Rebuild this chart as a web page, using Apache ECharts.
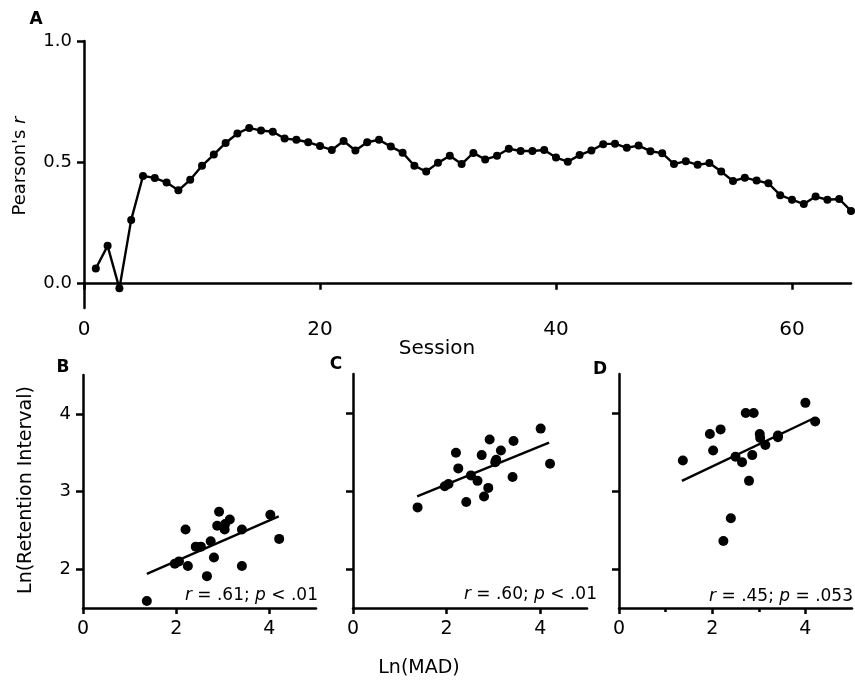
<!DOCTYPE html>
<html><head><meta charset="utf-8">
<script src="https://cdn.jsdelivr.net/npm/echarts@6/dist/echarts.min.js"></script>
<style>html,body{margin:0;padding:0;background:#fff}#c{width:855px;height:683px}</style>
</head><body><div id="c"></div>
<script>
// Panel A data
const sessions = [1,2,3,4,5,6,7,8,9,10,11,12,13,14,15,16,17,18,19,20,21,22,23,24,25,26,27,28,29,30,31,32,33,34,35,36,37,38,39,40,41,42,43,44,45,46,47,48,49,50,51,52,53,54,55,56,57,58,59,60,61,62,63,64,65];
const pearsonR = [0.063,0.156,-0.019,0.263,0.444,0.436,0.417,0.385,0.428,0.486,0.532,0.580,0.619,0.642,0.631,0.626,0.598,0.593,0.583,0.567,0.551,0.588,0.549,0.583,0.593,0.565,0.540,0.486,0.462,0.498,0.527,0.493,0.539,0.512,0.527,0.556,0.547,0.547,0.551,0.520,0.503,0.530,0.549,0.575,0.577,0.560,0.569,0.546,0.538,0.493,0.505,0.490,0.497,0.462,0.423,0.437,0.425,0.414,0.365,0.346,0.328,0.359,0.346,0.349,0.300];
const ticksA_x = [0,20,40,60];
const ticksA_y = [0,0.5,1.0];

// Panels B, C, D data (Ln(MAD) vs Ln(Retention Interval))
const madB = [1.37,1.97,2.06,2.20,2.25,2.42,2.53,2.66,2.74,2.81,2.88,2.92,3.04,3.05,3.15,3.41,3.41,4.02,4.21];
const riB  = [1.59,2.07,2.10,2.51,2.04,2.29,2.29,1.91,2.36,2.15,2.56,2.74,2.51,2.58,2.64,2.51,2.04,2.70,2.39];
const fitB = [[1.37,1.94],[4.20,2.68]];
const madC = [1.38,1.96,2.04,2.20,2.25,2.42,2.52,2.66,2.75,2.80,2.89,2.92,3.04,3.06,3.16,3.41,3.43,4.01,4.21];
const riC  = [2.79,3.06,3.09,3.49,3.29,2.86,3.20,3.13,3.46,2.93,3.04,3.66,3.37,3.40,3.52,3.18,3.64,3.80,3.35];
const fitC = [[1.37,2.93],[4.19,3.62]];
const madD = [1.37,1.95,2.02,2.18,2.24,2.40,2.50,2.64,2.72,2.79,2.86,2.89,3.02,3.03,3.14,3.41,3.41,4.00,4.21];
const riD  = [3.39,3.73,3.52,3.79,2.36,2.65,3.44,3.37,4.00,3.13,3.46,4.00,3.73,3.68,3.59,3.71,3.69,4.13,3.89];
const fitD = [[1.35,3.13],[4.17,3.93]];
const ticksSmall_x = [0,2,4];
const ticksSmall_xMinor = [1,3];
const ticksSmall_y = [2,3,4];

const FONT = '"DejaVu Sans", "Liberation Sans", Arial, sans-serif';
const pair = (xs, ys) => xs.map((x, i) => [x, ys[i]]);
const AXW = 2.5;

function xAx(gi, min, max, ticks, fs) {
  return {
    type: 'value', gridIndex: gi, min: min, max: max,
    axisLine: { show: true, lineStyle: { color: '#000', width: AXW } }, splitLine: { show: false },
    axisTick: { show: true, length: 6, lineStyle: { color: '#000', width: AXW }, customValues: ticks },
    axisLabel: { show: true, customValues: ticks, color: '#000', fontSize: fs, fontFamily: FONT, margin: 12 }
  };
}
function yAx(gi, min, max, ticks, showLabels, fs, fmt) {
  return {
    type: 'value', gridIndex: gi, min: min, max: max,
    axisLine: { show: true, lineStyle: { color: '#000', width: AXW } }, splitLine: { show: false },
    axisTick: { show: true, length: 7, lineStyle: { color: '#000', width: AXW }, customValues: ticks },
    axisLabel: { show: showLabels, customValues: ticks, color: '#000', fontSize: fs, fontFamily: FONT, margin: 12, formatter: fmt }
  };
}
function txt(x, y, text, size, opts) {
  const o = opts || {};
  return {
    type: 'text', x: x, y: y, rotation: o.rot || 0,
    style: {
      text: text, fontSize: size, fontFamily: FONT, fontWeight: o.bold ? 'bold' : 'normal', fill: '#000',
      align: o.align || 'center', verticalAlign: 'middle',
      rich: { i: { fontStyle: 'italic', fontSize: size, fontFamily: FONT } }
    }
  };
}

const dotStyle = { color: '#000', opacity: 1 };
const chart = echarts.init(document.getElementById('c'), null, { renderer: 'canvas' });
const option = {
  animation: false,
  backgroundColor: '#fff',
  grid: [
    { left: 84, top: 41, width: 767, height: 267 },
    { left: 83, top: 375, width: 233, height: 233 },
    { left: 353, top: 374, width: 234, height: 234 },
    { left: 619, top: 374, width: 233, height: 234 }
  ],
  xAxis: [
    xAx(0, 0, 65, ticksA_x, 20),
    xAx(1, 0, 5, ticksSmall_x, 19),
    xAx(2, 0, 5, ticksSmall_x, 19),
    xAx(3, 0, 5, ticksSmall_x, 19),
    {
      type: 'value', gridIndex: 3, min: 0, max: 5, position: 'bottom',
      axisLine: { show: false }, splitLine: { show: false },
      axisTick: { show: true, length: 4, lineStyle: { color: '#000', width: AXW }, customValues: ticksSmall_xMinor },
      axisLabel: { show: false }
    }
  ],
  yAxis: [
    yAx(0, -0.1, 1.0, ticksA_y, true, 18, v => v.toFixed(1)),
    yAx(1, 1.5, 4.5, ticksSmall_y, true, 18, v => String(v)),
    yAx(2, 1.5, 4.5, ticksSmall_y, false, 18),
    yAx(3, 1.5, 4.5, ticksSmall_y, false, 18)
  ],
  series: [
    { type: 'line', xAxisIndex: 0, yAxisIndex: 0, data: pair(sessions, pearsonR), symbol: 'circle', symbolSize: 8,
      lineStyle: { color: '#000', width: 2.4 }, itemStyle: dotStyle, clip: false },
    { type: 'scatter', xAxisIndex: 1, yAxisIndex: 1, data: pair(madB, riB), symbolSize: 10, itemStyle: dotStyle, clip: false },
    { type: 'line', xAxisIndex: 1, yAxisIndex: 1, data: fitB, symbol: 'none', lineStyle: { color: '#000', width: 2.4 } },
    { type: 'scatter', xAxisIndex: 2, yAxisIndex: 2, data: pair(madC, riC), symbolSize: 10, itemStyle: dotStyle, clip: false },
    { type: 'line', xAxisIndex: 2, yAxisIndex: 2, data: fitC, symbol: 'none', lineStyle: { color: '#000', width: 2.4 } },
    { type: 'scatter', xAxisIndex: 3, yAxisIndex: 3, data: pair(madD, riD), symbolSize: 10, itemStyle: dotStyle, clip: false },
    { type: 'line', xAxisIndex: 3, yAxisIndex: 3, data: fitD, symbol: 'none', lineStyle: { color: '#000', width: 2.4 } }
  ],
  graphic: [
    txt(36, 20, 'A', 17, { bold: true }),
    txt(63, 368, 'B', 17, { bold: true }),
    txt(336, 365, 'C', 17, { bold: true }),
    txt(600, 370, 'D', 17, { bold: true }),
    txt(20, 166, "Pearson's {i|r}", 18, { rot: Math.PI / 2 }),
    txt(437, 349, 'Session', 20),
    txt(26, 490, 'Ln(Retention Interval)', 19, { rot: Math.PI / 2 }),
    txt(419, 668, 'Ln(MAD)', 19),
    txt(318, 596, '{i|r} = .61; {i|p} < .01', 17, { align: 'right' }),
    txt(597, 595, '{i|r} = .60; {i|p} < .01', 17, { align: 'right' }),
    txt(853, 597, '{i|r} = .45; {i|p} = .053', 17, { align: 'right' })
  ]
};
chart.setOption(option);
</script>
</body></html>
